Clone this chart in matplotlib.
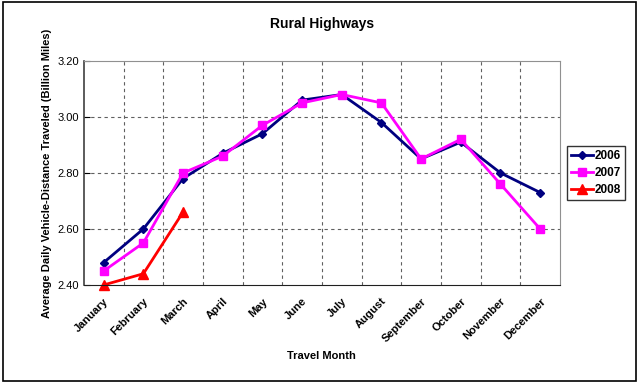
import matplotlib.pyplot as plt
from matplotlib.patches import Rectangle

months = ['January', 'February', 'March', 'April', 'May', 'June', 'July',
          'August', 'September', 'October', 'November', 'December']
vmt_2006 = [2.48, 2.60, 2.78, 2.87, 2.94, 3.06, 3.08, 2.98, 2.85, 2.91, 2.80, 2.73]
vmt_2007 = [2.45, 2.55, 2.80, 2.86, 2.97, 3.05, 3.08, 3.05, 2.85, 2.92, 2.76, 2.60]
vmt_2008 = [2.40, 2.44, 2.66]
yticks = [2.40, 2.60, 2.80, 3.00, 3.20]

plt.rcParams['font.family'] = ['Liberation Sans', 'DejaVu Sans']

fig = plt.figure(figsize=(6.4, 3.83), dpi=100)
ax = fig.add_axes([0.131, 0.256, 0.744, 0.585])

x = list(range(len(months)))
ax.plot(x, vmt_2006, '-D', color='#000080', linewidth=2, markersize=4, label='2006')
ax.plot(x, vmt_2007, '-s', color='#FF00FF', linewidth=2, markersize=6, label='2007')
ax.plot(x[:len(vmt_2008)], vmt_2008, '-^', color='#FF0000', linewidth=2, markersize=7,
        label='2008', clip_on=False)

ax.set_xlim(-0.5, 11.5)
ax.set_ylim(2.40, 3.20)
ax.set_yticks(yticks)
ax.set_yticklabels(['%.2f' % v for v in yticks], fontsize=8)
ax.set_xticks(x)
ax.set_xticklabels(months, rotation=45, ha='right', rotation_mode='anchor',
                   fontsize=8, fontweight='bold')
ax.tick_params(axis='x', length=0, pad=8)
ax.tick_params(axis='y', length=4, direction='in')

# category boundary gridlines
for b in range(1, 12):
    ax.axvline(b - 0.5, color='#606060', linestyle=(0, (3, 3)), linewidth=0.8, zorder=0)
for v in yticks[1:-1]:
    ax.axhline(v, color='#606060', linestyle=(0, (3, 3)), linewidth=0.8, zorder=0)

for s in ['top', 'right']:
    ax.spines[s].set_color('#909090')
ax.spines['left'].set_color('#404040')
ax.spines['left'].set_linewidth(1.2)
ax.spines['bottom'].set_color('#202020')

ax.set_title('Rural Highways', fontsize=10, fontweight='bold', pad=24)
ax.set_xlabel('Travel Month', fontsize=8, fontweight='bold', labelpad=5)
ax.set_ylabel('Average Daily Vehicle-Distance Traveled (Billion Miles)',
              fontsize=8, fontweight='bold')

leg = ax.legend(loc='center left', bbox_to_anchor=(1.015, 0.5), fontsize=8.5,
                frameon=True, fancybox=False, edgecolor='black', borderpad=0.35,
                borderaxespad=0, handlelength=1.8, handletextpad=0.2, labelspacing=0.4)
for t in leg.get_texts():
    t.set_fontweight('bold')

fig.patches.append(Rectangle((0.004, 0.005), 0.99, 0.99, transform=fig.transFigure,
                             fill=False, edgecolor='black', linewidth=1.2))

fig.savefig('out.png', dpi=100)
